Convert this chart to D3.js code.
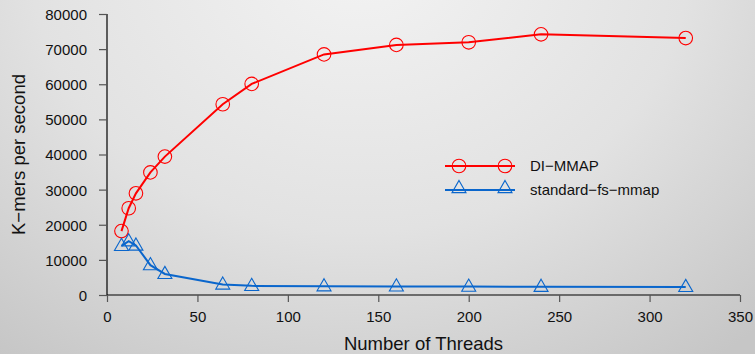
<!DOCTYPE html>
<html>
<head>
<meta charset="utf-8">
<script src="https://cdn.jsdelivr.net/npm/d3@7"></script>
<style>
  html, body { margin: 0; padding: 0; background: #e0e0e0; }
  svg { display: block; }
  text { font-family: "Liberation Sans", Arial, Helvetica, sans-serif; fill: #111; }
</style>
</head>
<body>
<script>
// Thread counts tested
const threads = [8, 12, 16, 24, 32, 64, 80, 120, 160, 200, 240, 320];
// Throughput (K-mers per second) for each configuration
const diMmap = [18200, 24700, 28950, 34900, 39400, 54300, 60100, 68500, 71200, 71950, 74200, 73150];
const standardFsMmap = [14000, 15300, 14100, 8500, 6000, 3000, 2600, 2500, 2450, 2400, 2350, 2300];
const seriesNames = ["DI\u2212MMAP", "standard\u2212fs\u2212mmap"];
const seriesColors = ["#ff0000", "#0a66cc"];
const xTicks = [0, 50, 100, 150, 200, 250, 300, 350];
const yTicks = [0, 10000, 20000, 30000, 40000, 50000, 60000, 70000, 80000];

const W = 755, H = 354;
const svg = d3.select("body").append("svg").attr("width", W).attr("height", H);

// Soft grey backdrop
const defs = svg.append("defs");
const grad = defs.append("radialGradient").attr("id", "bg")
  .attr("gradientUnits", "userSpaceOnUse")
  .attr("cx", 360).attr("cy", -40).attr("r", 520)
  .attr("gradientTransform", "translate(360,-40) scale(1.15,0.95) translate(-360,40)");
grad.append("stop").attr("offset", 0).attr("stop-color", "#f3f3f3");
grad.append("stop").attr("offset", 0.55).attr("stop-color", "#e2e2e2");
grad.append("stop").attr("offset", 1).attr("stop-color", "#c6c6c6");
svg.append("rect").attr("width", W).attr("height", H).attr("fill", "url(#bg)");

const x = d3.scaleLinear().domain([0, 350]).range([107, 740]);
const y = d3.scaleLinear().domain([0, 80000]).range([295, 14]);

// Axes
const xAxis = svg.append("g").attr("transform", "translate(0,295)")
  .call(d3.axisBottom(x).tickValues(xTicks).tickSize(7).tickPadding(9).tickFormat(d3.format("d")));
const yAxis = svg.append("g").attr("transform", "translate(107,0)")
  .call(d3.axisLeft(y).tickValues(yTicks).tickSize(8).tickPadding(12).tickFormat(d3.format("d")));
[xAxis, yAxis].forEach(g => {
  g.select(".domain").attr("stroke", "#000").attr("stroke-width", 1.2);
  g.selectAll(".tick line").attr("stroke", "#555").attr("stroke-width", 1.2);
  g.selectAll(".tick text").style("font-size", "15px").attr("fill", "#111");
});
xAxis.select(".domain").attr("d", `M${x(0)},0H${x(350)}`);
yAxis.select(".domain").attr("d", `M0,${y(0)}V${y(80000)}`);
xAxis.selectAll(".tick text").attr("dy", "0.75em");
yAxis.selectAll(".tick text").attr("dy", "0.36em");

// Axis titles
svg.append("text").attr("x", (x(0) + x(350)) / 2).attr("y", 350)
  .attr("text-anchor", "middle").style("font-size", "18.5px").text("Number of Threads");
svg.append("text").attr("transform", `translate(25,${(y(0) + y(80000)) / 2}) rotate(-90)`)
  .attr("text-anchor", "middle").style("font-size", "18.5px").text("K\u2212mers per second");

const line = d3.line().x(d => x(d[0])).y(d => y(d[1]));
const triangle = (cx, cy, s) => {
  const h = s * 0.87;
  return `M${cx},${cy - h * 0.62}L${cx + s / 2},${cy + h * 0.38}L${cx - s / 2},${cy + h * 0.38}Z`;
};

function drawSeries(values, color, kind) {
  const pts = threads.map((t, i) => [t, values[i]]);
  const g = svg.append("g");
  g.append("path").attr("d", line(pts)).attr("fill", "none")
    .attr("stroke", color).attr("stroke-width", 2);
  if (kind === "circle") {
    g.selectAll("circle").data(pts).join("circle")
      .attr("cx", d => x(d[0])).attr("cy", d => y(d[1])).attr("r", 6.8)
      .attr("fill", "none").attr("stroke", color).attr("stroke-width", 1.1);
  } else {
    g.selectAll("path.m").data(pts).join("path").attr("class", "m")
      .attr("d", d => triangle(x(d[0]), y(d[1]), 14))
      .attr("fill", "none").attr("stroke", color).attr("stroke-width", 1.1);
  }
}
drawSeries(diMmap, seriesColors[0], "circle");
drawSeries(standardFsMmap, seriesColors[1], "triangle");

// Legend
const legend = svg.append("g");
[0, 1].forEach(i => {
  const ly = 166 + i * 24;
  legend.append("line").attr("x1", 445).attr("x2", 515).attr("y1", ly).attr("y2", ly)
    .attr("stroke", seriesColors[i]).attr("stroke-width", 2);
  [459, 505].forEach(mx => {
    if (i === 0) {
      legend.append("circle").attr("cx", mx).attr("cy", ly).attr("r", 6.8)
        .attr("fill", "none").attr("stroke", seriesColors[i]).attr("stroke-width", 1.1);
    } else {
      legend.append("path").attr("d", triangle(mx, ly - 2, 14))
        .attr("fill", "none").attr("stroke", seriesColors[i]).attr("stroke-width", 1.1);
    }
  });
  legend.append("text").attr("x", 530).attr("y", ly).attr("dy", "0.36em")
    .style("font-size", "15px").text(seriesNames[i]);
});
</script>
</body>
</html>
